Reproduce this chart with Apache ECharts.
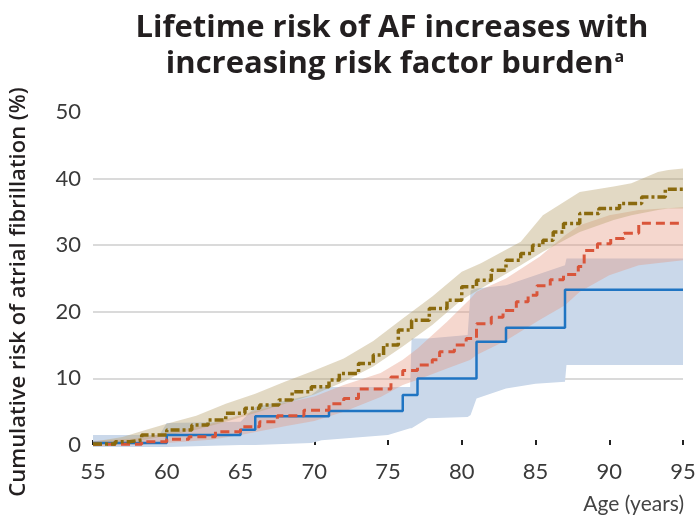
<!DOCTYPE html>
<html><head><meta charset="utf-8">
<script src="https://cdn.jsdelivr.net/npm/echarts@6/dist/echarts.min.js"></script>
<style>html,body{margin:0;padding:0;background:#fff}#c{width:699px;height:517px}</style>
</head><body><div id="c"></div>
<script>
// ---- Data ----
const titleLines = ['Lifetime risk of AF increases with', 'increasing risk factor burden'];
const xAxisName = 'Age (years)';
const yAxisName = 'Cumulative risk of atrial fibrillation (%)';
const xTicks = [55, 60, 65, 70, 75, 80, 85, 90, 95];
const yTicks = [0, 10, 20, 30, 40, 50];

// Low burden (blue, solid step line)
const lowAges = [55, 60, 65, 66, 71, 76, 77, 81, 83, 87, 95];
const lowRisk = [0.3, 1.5, 2.3, 4.3, 5.1, 7.5, 10.0, 15.5, 17.6, 23.3, 23.3];
// Intermediate burden (red, dashed step line)
const midAges = [55, 58.3, 60, 61.5, 63.3, 65, 66.3, 67.5, 69.3, 71, 72, 73, 75.2, 76, 77, 78, 78.5, 79.5, 80.3, 81, 82, 82.8, 83.7, 84.5, 85.1, 86, 86.9, 87.9, 88.3, 89.2, 90.1, 91, 92, 95];
const midRisk = [0.1, 0.5, 0.85, 1.25, 2.0, 2.75, 3.5, 4.4, 5.2, 6.2, 7.0, 8.4, 10.2, 11.2, 12.0, 12.8, 14.0, 15.0, 16.0, 18.2, 19.2, 20.2, 21.5, 22.5, 23.9, 24.8, 25.6, 26.8, 29.2, 30.2, 31.0, 31.8, 33.3, 33.3];
// High burden (brown, dash-dot step line)
const highAges = [55, 56.5, 57.5, 58.3, 60, 61.7, 62.8, 64, 65.3, 66.3, 67.6, 68.5, 69.8, 71, 71.7, 73, 74, 74.7, 75.7, 76.6, 77.8, 79, 80, 81, 82, 83, 84, 84.8, 85.5, 86.2, 86.9, 88, 89.3, 90.7, 92.2, 93.8, 95];
const highRisk = [0.15, 0.5, 0.75, 1.5, 2.25, 3.0, 3.75, 4.75, 5.5, 6.0, 6.75, 8.0, 8.75, 9.75, 10.75, 12.25, 13.5, 15.0, 17.25, 18.75, 20.5, 21.75, 23.75, 24.75, 26.25, 27.75, 28.75, 30.0, 30.75, 32.0, 33.25, 34.75, 35.5, 36.25, 37.25, 38.4, 38.4];

// Confidence bands
const lowBandAges = [55, 59.5, 60, 65, 66, 69.8, 70.5, 75, 76.5, 76.6, 77.7, 80.4, 80.6, 81, 83, 85, 87, 87.1, 95];
const lowBandLo   = [-0.3, -0.3, -0.3, 0, 0, 0.3, 0.7, 1.5, 2.5, 2.5, 4.0, 4.2, 4.5, 7.0, 8.5, 9.2, 9.5, 12.0, 12.0];
const lowBandHi   = [1.5, 1.5, 3.3, 3.5, 5.7, 7.5, 8.7, 8.7, 8.7, 16.0, 16.0, 16.5, 23.2, 23.5, 24.0, 25.5, 27.0, 28.0, 28.0];

const midBandAges = [55, 58, 60, 63, 65, 68, 70, 72, 74.5, 76, 77, 79, 80.6, 81, 83, 85.3, 87, 88, 90, 92, 95];
const midBandLo   = [-0.2, 0, 0.3, 0.8, 1.5, 2.8, 3.6, 5.0, 7.2, 9.0, 9.8, 11.5, 12.8, 13.5, 15.7, 18.8, 21.0, 23.0, 25.5, 27.0, 27.75];
const midBandHi   = [0.6, 1.0, 1.8, 3.2, 4.5, 6.3, 7.3, 9.0, 10.8, 12.8, 14.5, 18.5, 22.0, 23.0, 25.0, 28.3, 31.5, 33.0, 34.5, 35.3, 35.7];

const highBandAges = [55, 57, 58.5, 60, 62, 64, 66, 68, 70, 72, 74, 76, 78, 80, 81.3, 84, 85.5, 88, 90.3, 91.5, 93.3, 94, 95];
const highBandLo   = [0, 0.3, 0.8, 1.4, 2.3, 3.5, 4.8, 6.2, 7.6, 9.5, 11.8, 14.8, 18.0, 21.8, 23.5, 27.0, 29.0, 32.0, 33.8, 34.5, 35.3, 35.5, 35.5];
const highBandHi   = [0.5, 1.2, 2.2, 3.2, 4.4, 6.2, 7.7, 9.5, 11.2, 13.0, 15.6, 19.0, 22.3, 26.0, 27.3, 30.5, 34.5, 38.0, 38.8, 39.3, 41.0, 41.3, 41.5];

// ---- Chart ----
const zip = (a, b) => a.map((v, i) => [v, b[i]]);

function band(ages, lo, hi, color, z) {
  return {
    type: 'custom', coordinateSystem: 'cartesian2d', silent: true, z: z,
    data: ages.map((a, i) => [a, lo[i], hi[i]]),
    encode: { x: 0, y: [1, 2] },
    renderItem: function (params, api) {
      if (params.dataIndex !== 0) return null;
      const pts = [];
      for (let i = 0; i < ages.length; i++) pts.push(api.coord([ages[i], hi[i]]));
      for (let i = ages.length - 1; i >= 0; i--) pts.push(api.coord([ages[i], lo[i]]));
      return { type: 'polygon', shape: { points: pts }, style: { fill: color } };
    }
  };
}

function stepLine(ages, vals, color, width, dash, z) {
  return {
    type: 'line', step: 'end', symbol: 'none', z: z, silent: true,
    data: zip(ages, vals),
    lineStyle: { color: color, width: width, type: dash, cap: 'butt' }
  };
}

const chart = echarts.init(document.getElementById('c'), null, { renderer: 'canvas' });
chart.setOption({
  animation: false,
  backgroundColor: '#fff',
  grid: { left: 93, right: 16, top: 112, bottom: 72, containLabel: false },
  xAxis: {
    type: 'value', min: xTicks[0], max: xTicks[xTicks.length - 1], interval: 5,
    axisLine: { show: false },
    axisTick: { show: true, inside: true, length: 5, lineStyle: { color: '#222', width: 2 } },
    splitLine: { show: false },
    axisLabel: { margin: 16, color: '#3a3a3a', fontFamily: 'Lato', fontSize: 22 }
  },
  yAxis: {
    type: 'value', min: yTicks[0], max: yTicks[yTicks.length - 1], interval: 10,
    axisLine: { show: false }, axisTick: { show: false },
    splitLine: { show: true, lineStyle: { color: ['rgba(0,0,0,0)', '#dadada', '#dadada', '#dadada', '#dadada', 'rgba(0,0,0,0)'], width: 2 } },
    axisLabel: { margin: 12, color: '#3a3a3a', fontFamily: 'Lato', fontSize: 22 }
  },
  graphic: [
    { type: 'text', x: 392, y: 28, style: { text: titleLines[0], font: 'bold 31px "Open Sans"', fill: '#231f20', textAlign: 'center', textVerticalAlign: 'middle' } },
    { type: 'text', x: 395, y: 64, style: { text: titleLines[1] + '{s|a}', font: 'bold 31px "Open Sans"', fill: '#231f20', textAlign: 'center', textVerticalAlign: 'middle',
        rich: { s: { fontSize: 16, fontWeight: 'bold', fontFamily: 'Open Sans', fill: '#231f20', padding: [0, 0, 14, 1] } } } },
    { type: 'text', x: 19, y: 292, rotation: Math.PI / 2, style: { text: yAxisName, font: '600 22px "Open Sans"', fill: '#231f20', textAlign: 'center', textVerticalAlign: 'middle' } },
    { type: 'text', x: 684, y: 504, style: { text: xAxisName, font: '21px Lato', fill: '#444', textAlign: 'right', textVerticalAlign: 'middle' } }
  ],
  series: [
    band(lowBandAges, lowBandLo, lowBandHi, 'rgb(202,216,234)', 1),
    band(midBandAges, midBandLo, midBandHi, 'rgba(228,150,125,0.38)', 2),
    band(highBandAges, highBandLo, highBandHi, 'rgba(185,165,115,0.42)', 3),
    stepLine(lowAges, lowRisk, '#1f74c2', 2.5, 'solid', 5),
    stepLine(midAges, midRisk, '#d9553a', 3, [9, 5], 6),
    stepLine(highAges, highRisk, '#8a6a0e', 3.5, [9, 3, 3, 3], 7)
  ]
});
</script>
</body></html>
